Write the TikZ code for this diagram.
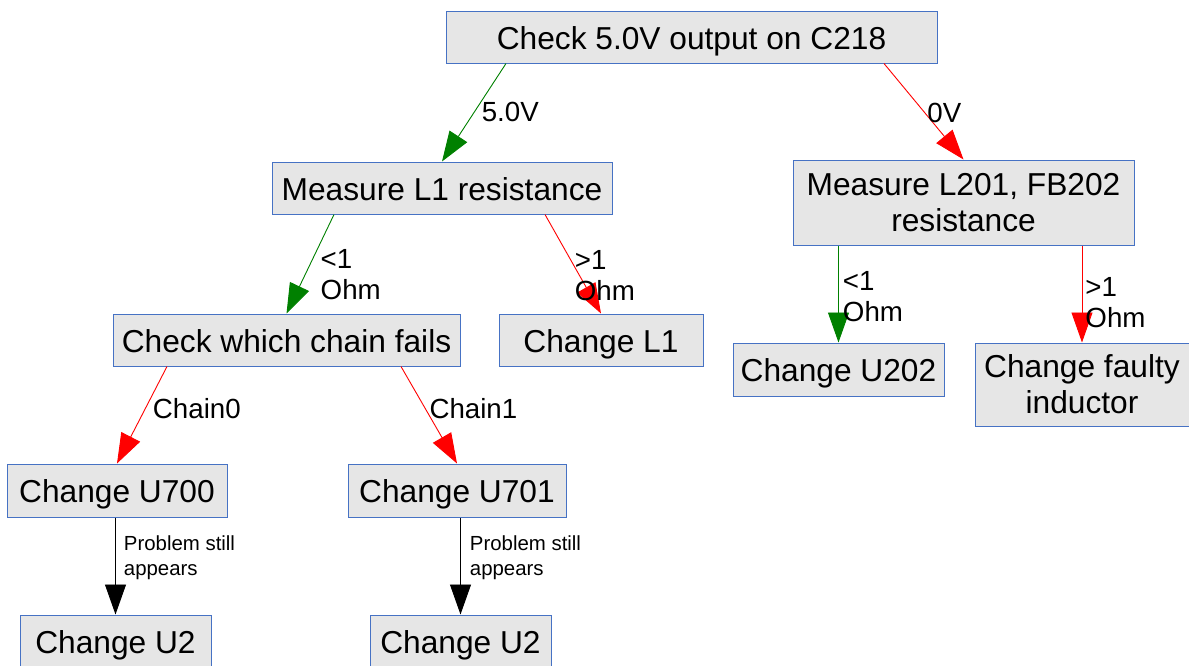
\documentclass[tikz,border=0pt]{standalone}
\usepackage{fontspec}
\setmainfont{Liberation Sans}
\usepackage{tikz}
\usetikzlibrary{arrows.meta}
\definecolor{boxblue}{RGB}{70,114,196}
\definecolor{boxgray}{RGB}{230,230,230}
\definecolor{okgreen}{RGB}{0,128,0}

\begin{document}
\begin{tikzpicture}[x=1pt, y=-1pt,
            box/.style = {shape=rectangle, draw=boxblue, fill=boxgray,
                          line width=1pt, inner sep=0pt, align=center,
                          font=\fontsize{31.7}{36}\selectfont},
            oneline/.style = {text height=28pt, text depth=4pt},
            lbl/.style = {anchor=west, inner sep=0pt, align=left, text=black,
                          font=\fontsize{27.7}{31}\selectfont},
            note/.style = {lbl, font=\fontsize{20.4}{25}\selectfont},
            link/.style = {line width=0.9pt, -{Triangle[length=30pt,width=21pt]}},
            yes/.style = {link, okgreen},
            no/.style = {link, red},
            more/.style = {link, black}]
    \clip (0,0) rectangle (1189,665);
    \node[box, oneline, minimum width=491, minimum height=52] (top) at (691.5,37) {Check 5.0V output on C218};
    \node[box, oneline, minimum width=340, minimum height=52] (l1) at (442,188) {Measure L1 resistance};
    \node[box, minimum width=341, minimum height=85] (l201) at (963.5,202.5) {Measure L201, FB202\\resistance};
    \node[box, oneline, minimum width=347, minimum height=52] (chain) at (286.5,340) {Check which chain fails};
    \node[box, oneline, minimum width=204, minimum height=52] (cl1) at (601,340) {Change L1};
    \node[box, oneline, minimum width=211, minimum height=53] (u202) at (838.5,369.5) {Change U202};
    \node[box, minimum width=214, minimum height=83] (faulty) at (1082,384.5) {Change faulty\\inductor};
    \node[box, oneline, minimum width=220, minimum height=53] (u700) at (117,490.5) {Change U700};
    \node[box, oneline, minimum width=218, minimum height=53] (u701) at (457,490.5) {Change U701};
    \node[box, oneline, minimum width=191, minimum height=52] (u2a) at (115.5,641) {Change U2};
    \node[box, oneline, minimum width=181, minimum height=52] (u2b) at (460.5,641) {Change U2};

    \draw[yes] ([xshift=-185.5pt]top.south) -- (l1.north) node[lbl, pos=.495, xshift=7pt] {5.0V};
    \draw[no] ([xshift=192.5pt]top.south) -- (l201.north) node[lbl, pos=.515, xshift=2pt] {0V};
    \draw[yes] ([xshift=-108pt]l1.south) -- (chain.north) node[lbl, pos=.605, xshift=15pt] {<1\\Ohm};
    \draw[no] ([xshift=103pt]l1.south) -- (cl1.north) node[lbl, pos=.615, xshift=-5pt] {>1\\Ohm};
    \draw[yes] (l201.south -| u202.north) -- (u202.north) node[lbl, pos=.525, xshift=4pt] {<1\\Ohm};
    \draw[no] (l201.south -| faulty.north) -- (faulty.north) node[lbl, pos=.587, xshift=3pt] {>1\\Ohm};
    \draw[no] ([xshift=-119.5pt]chain.south) -- (u700.north) node[lbl, pos=.43, xshift=7pt] {Chain0};
    \draw[no] ([xshift=114.5pt]chain.south) -- (u701.north) node[lbl, pos=.43, xshift=4pt] {Chain1};
    \draw[more] (u700.south -| u2a.north) -- (u2a.north) node[note, pos=.41, xshift=8pt] {Problem still\\appears};
    \draw[more] (u701.south -| u2b.north) -- (u2b.north) node[note, pos=.41, xshift=9pt] {Problem still\\appears};
\end{tikzpicture}
\end{document}
